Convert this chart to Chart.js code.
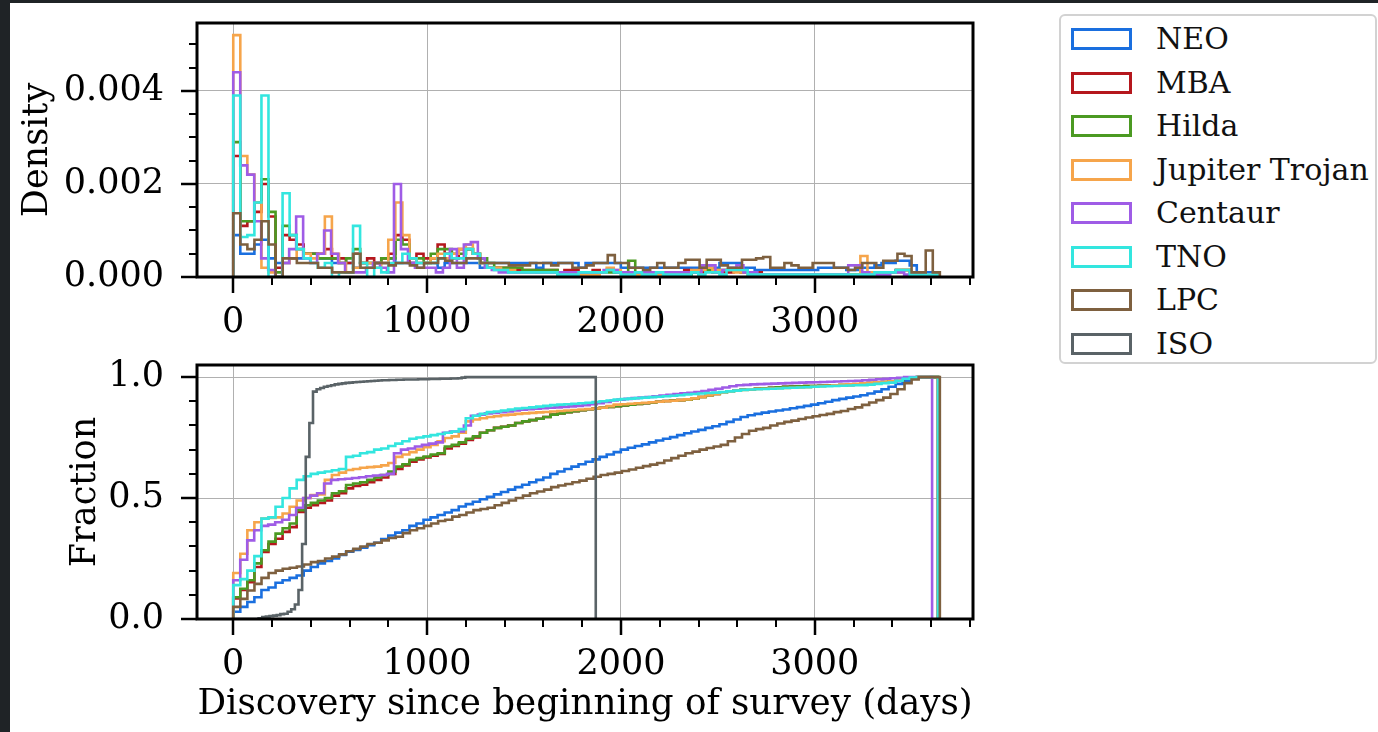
<!DOCTYPE html>
<html>
<head>
<meta charset="utf-8">
<script src="https://cdn.jsdelivr.net/npm/chart.js@4"></script>
<style>
  html, body { margin: 0; padding: 0; background: #ffffff; }
  body { width: 1378px; height: 732px; position: relative; overflow: hidden; font-family: 'DejaVu Serif', serif; }
  canvas { position: absolute; left: 0; }
  #c1 { top: 0; }
  #c2 { top: 345px; }
  .dark { position: absolute; background: #1f2326; z-index: 5; }
  #legend { position: absolute; left: 1059px; top: 14px; width: 318px; height: 350px; box-sizing: border-box;
            border: 2px solid #d2d2d2; border-radius: 6px; background: #fff; }
  .patch { position: absolute; left: 10px; width: 61px; height: 22px; box-sizing: border-box; border: 3px solid; background: #fff; }
  .ltext { position: absolute; left: 95px; font-size: 30px; line-height: 30px; color: #111; white-space: nowrap; }
</style>
</head>
<body>
<div class="dark" style="left:0;top:0;width:10px;height:732px"></div>
<div class="dark" style="left:0;top:0;width:1378px;height:3px"></div>
<canvas id="c1" width="1000" height="345"></canvas>
<canvas id="c2" width="1000" height="387"></canvas>
<div id="legend"></div>
<script>
// ---------------- data ----------------
const seriesNames  = ['NEO', 'MBA', 'Hilda', 'Jupiter Trojan', 'Centaur', 'TNO', 'LPC', 'ISO'];
const seriesColors = ['#1a6fdf', '#b5171d', '#4b9a22', '#f6a54b', '#9f5ce6', '#33e6df', '#7e603f', '#5a6367'];
// last discovery day of each population (upper edge of its histogram range)
const seriesEndDay = [3635, 3635, 3638, 3635, 3605, 3635, 3645, 1870];
const nBins = 100;

// Density per bin, in units of 1e-4 per day
const DENSITY_UNIT = 1e-4;
const densityNEO = [
  9, 5, 5, 7, 8, 4, 3, 3, 4, 4,
  5, 5, 4, 4, 3, 3, 3, 2, 3, 3,
  3, 3, 4, 3, 3, 3, 3, 3, 3, 2,
  3, 3, 3, 3, 3, 2, 3, 3, 3, 3,
  3, 3, 3, 2, 3, 3, 3, 3, 3, 2,
  3, 3, 3, 3, 3, 2, 2, 2, 2, 2,
  2, 2, 2, 2, 2, 2, 2, 2, 2, 3,
  3, 3, 2, 2, 1.5, 1.5, 1.5, 1.5, 1.5, 1.5,
  1.5, 1.5, 1.5, 2, 2, 2, 2, 1.5, 1.5, 2,
  2, 2.5, 3, 3, 3.5, 3.5, 2.5, 1, 1, 0.5];
const densityMBA = [
  26, 11, 12, 14, 20, 13, 2, 9, 8, 7,
  5, 5, 5, 6, 4, 4, 3, 5, 3, 4,
  3, 4, 5, 9, 8, 3, 5, 4, 4, 7,
  5, 4, 6, 6, 5, 3, 2, 2, 2, 2,
  1.5, 1.5, 1.5, 1, 1.5, 1.5, 1, 1.5, 1.5, 1,
  1, 1.5, 1, 1.5, 1, 1, 1, 1, 1, 1,
  1, 1, 1, 1, 1.5, 1, 1, 1.5, 1, 1,
  1, 1.5, 1, 1, 1, 0.5, 0.5, 0.5, 0.5, 0.5,
  0.5, 0.5, 0.5, 0.5, 0.5, 0.5, 0.5, 0.5, 0.5, 0.5,
  0.5, 1, 1, 1, 1.5, 1.5, 1, 0.5, 0.5, 0.5];
const densityHilda = [
  29, 12, 12, 16, 21, 14, 1, 11, 9, 6,
  5, 5, 4, 4, 4, 3, 4, 6, 3, 3,
  3, 4, 4, 8, 7, 4, 4, 3, 5, 6,
  6, 5, 5, 6, 5, 4, 3, 2, 2, 2,
  2, 1.5, 1.5, 1.5, 1.5, 1.5, 1, 1, 1, 1,
  1, 1, 1, 1, 1, 1, 3.5, 1, 1, 1,
  1, 1, 0.5, 0.5, 0.5, 1, 1.5, 1.5, 1.5, 1.5,
  1.5, 1.5, 1, 1, 0.5, 0.5, 0.5, 0.5, 0.5, 0.5,
  0.5, 0.5, 0.5, 0.5, 0.5, 0.5, 0.5, 0.5, 0.5, 0.5,
  0.5, 1, 1, 1, 1.5, 1.5, 1, 0.5, 0.5, 0.5];
const densityTrojan = [
  52, 26, 22, 16, 2, 1, 0, 3, 4, 6,
  5, 4, 5, 13, 5, 3, 1, 2, 3, 3,
  2, 3, 8, 16, 9, 4, 3, 3, 4, 5,
  4, 5, 6, 7, 5, 3, 2, 2, 1.5, 1.5,
  1, 1, 1, 1, 1, 1, 0.5, 0.5, 0.5, 0.5,
  0.5, 0.5, 1, 2, 1.5, 0.5, 0.5, 0.5, 0.5, 0.5,
  0.5, 0.5, 0.5, 1, 1, 1.5, 1.5, 2, 1.5, 1.5,
  1.5, 1, 1, 0.5, 0.5, 0.5, 0.5, 0.5, 0.5, 0.5,
  0.5, 0.5, 0.5, 0.5, 0.5, 0.5, 0.5, 0.5, 0.5, 4.5,
  1, 0.5, 1, 1, 1, 1.5, 1, 0.5, 0.5, 0.5];
const densityCentaur = [
  44, 24, 22, 12, 4, 1.5, 0, 3, 6, 13,
  4, 3, 5, 10, 5, 3, 1, 1, 1, 2,
  3, 2, 1, 20, 6, 3, 2, 2, 2, 1,
  2, 6, 2, 7, 7.5, 4, 2, 1.5, 1, 1,
  1, 1, 1, 1, 1, 1, 1, 1, 1, 1,
  1, 1, 1, 1.5, 1.5, 1, 1, 1, 1, 1,
  1, 1, 1, 1, 1, 1, 1, 2.5, 2.5, 1,
  1.5, 2, 2.5, 1, 1, 0.5, 0.5, 0.5, 0.5, 0.5,
  0.5, 0.5, 0.5, 0.5, 0.5, 0.5, 0.5, 0.5, 2.5, 2.5,
  1, 0.5, 0.5, 0.5, 1, 1, 0.5, 0.5, 0.5, 0.5];
const densityTNO = [
  39, 8.6, 9, 16, 39, 0, 0, 18, 9, 6,
  4, 3, 2, 3, 0, 1, 1, 11, 3, 0,
  2, 1, 3, 3, 5, 4, 3, 3, 3, 4,
  5, 4, 4, 6, 5, 3, 2, 1.5, 1.5, 1,
  1, 1, 1, 1, 1, 1, 0.5, 0.5, 0.5, 1,
  1, 1, 1, 1.5, 1, 0.5, 0.5, 1, 0.5, 0.5,
  1, 0.5, 0.5, 0.5, 0.5, 1, 0.5, 1, 1, 0.5,
  1.5, 1.5, 1.5, 0.5, 0.5, 0.5, 0.5, 0.5, 0.5, 0.5,
  0.5, 0.5, 0.5, 0.5, 0.5, 0.5, 0.5, 0.5, 0.5, 0.5,
  0.5, 1, 1, 1, 1.5, 1.5, 0.5, 0.5, 0.5, 0.5];
const densityLPC = [
  13.7, 7, 6, 8, 12, 7, 0, 4, 4, 3,
  3, 3, 2, 2, 1, 1, 1, 5, 2, 2,
  3, 3, 2.5, 3, 3, 2.5, 2, 3, 3, 4,
  3.5, 3, 3, 4, 4, 3, 3, 3, 3, 2.5,
  2.5, 2.5, 3, 3, 3, 2.5, 3, 3, 2, 2,
  2.5, 3, 3, 4.7, 3, 3, 2, 2, 1.5, 2,
  3, 2, 2, 3, 3.7, 3.7, 2, 3.7, 3.7, 2.5,
  2, 2, 3.7, 3.7, 4, 4.3, 2, 2, 3, 2.5,
  2, 2, 3, 3, 3, 2, 2, 1.5, 2, 3,
  3, 2, 3.5, 3.5, 5, 4.5, 1, 1, 5.7, 1];

// Cumulative fraction at the end of each bin
const cumNEO = [
  0.03, 0.05, 0.07, 0.09, 0.12, 0.13, 0.15, 0.16, 0.17, 0.18,
  0.2, 0.215, 0.23, 0.24, 0.25, 0.265, 0.278, 0.285, 0.295, 0.305,
  0.315, 0.33, 0.345, 0.357, 0.367, 0.385, 0.395, 0.41, 0.42, 0.43,
  0.44, 0.45, 0.465, 0.475, 0.485, 0.495, 0.505, 0.515, 0.525, 0.535,
  0.545, 0.555, 0.565, 0.575, 0.585, 0.6, 0.61, 0.62, 0.63, 0.64,
  0.65, 0.66, 0.67, 0.68, 0.69, 0.7, 0.708, 0.715, 0.722, 0.73,
  0.738, 0.745, 0.752, 0.76, 0.768, 0.775, 0.782, 0.79, 0.797, 0.805,
  0.815, 0.825, 0.835, 0.842, 0.848, 0.853, 0.858, 0.862, 0.866, 0.871,
  0.876, 0.881, 0.886, 0.892, 0.898, 0.905, 0.91, 0.915, 0.92, 0.925,
  0.932, 0.94, 0.95, 0.96, 0.972, 0.985, 0.995, 0.998, 0.999, 1.0];
const cumMBA = [
  0.085, 0.12, 0.152, 0.215, 0.277, 0.31, 0.332, 0.36, 0.38, 0.443,
  0.46, 0.47, 0.48, 0.49, 0.51, 0.52, 0.54, 0.55, 0.555, 0.565,
  0.575, 0.585, 0.6, 0.62, 0.635, 0.65, 0.66, 0.668, 0.675, 0.682,
  0.705, 0.715, 0.725, 0.74, 0.75, 0.77, 0.78, 0.79, 0.795, 0.8,
  0.81, 0.817, 0.822, 0.828, 0.835, 0.845, 0.85, 0.855, 0.859, 0.863,
  0.867, 0.87, 0.873, 0.877, 0.88, 0.883, 0.886, 0.889, 0.892, 0.895,
  0.898, 0.901, 0.903, 0.905, 0.907, 0.912, 0.918, 0.925, 0.93, 0.935,
  0.94, 0.945, 0.948, 0.95, 0.952, 0.954, 0.956, 0.958, 0.96, 0.961,
  0.962, 0.963, 0.963, 0.964, 0.965, 0.966, 0.967, 0.968, 0.97, 0.972,
  0.975, 0.977, 0.98, 0.983, 0.988, 0.994, 0.998, 1, 1, 1];
const cumHilda = [
  0.09, 0.125, 0.16, 0.23, 0.284, 0.32, 0.353, 0.375, 0.395, 0.45,
  0.47, 0.48, 0.49, 0.5, 0.52, 0.528, 0.554, 0.56, 0.565, 0.575,
  0.585, 0.595, 0.61, 0.63, 0.64, 0.658, 0.665, 0.672, 0.68, 0.685,
  0.713, 0.72, 0.73, 0.745, 0.755, 0.77, 0.78, 0.79, 0.795, 0.8,
  0.81, 0.817, 0.822, 0.828, 0.835, 0.845, 0.85, 0.855, 0.859, 0.863,
  0.867, 0.87, 0.873, 0.877, 0.88, 0.883, 0.886, 0.889, 0.892, 0.895,
  0.898, 0.901, 0.903, 0.905, 0.907, 0.912, 0.918, 0.925, 0.93, 0.935,
  0.94, 0.945, 0.948, 0.95, 0.952, 0.954, 0.956, 0.958, 0.96, 0.961,
  0.962, 0.963, 0.963, 0.964, 0.965, 0.966, 0.967, 0.968, 0.97, 0.972,
  0.975, 0.977, 0.98, 0.983, 0.988, 0.994, 0.998, 1, 1, 1];
const cumTrojan = [
  0.19, 0.27, 0.367, 0.4, 0.415, 0.418, 0.42, 0.436, 0.464, 0.49,
  0.5, 0.512, 0.515, 0.575, 0.595, 0.605, 0.616, 0.62, 0.625, 0.628,
  0.63, 0.635, 0.645, 0.67, 0.68, 0.69, 0.7, 0.71, 0.72, 0.735,
  0.748, 0.755, 0.77, 0.817, 0.825, 0.83, 0.835, 0.838, 0.842, 0.845,
  0.848, 0.85, 0.852, 0.854, 0.856, 0.858, 0.86, 0.862, 0.864, 0.866,
  0.868, 0.87, 0.873, 0.88, 0.886, 0.888, 0.89, 0.892, 0.894, 0.896,
  0.898, 0.9, 0.902, 0.905, 0.908, 0.912, 0.918, 0.925, 0.93, 0.935,
  0.94, 0.944, 0.947, 0.95, 0.951, 0.952, 0.953, 0.954, 0.955, 0.956,
  0.957, 0.958, 0.96, 0.962, 0.964, 0.966, 0.968, 0.97, 0.972, 0.974,
  0.976, 0.978, 0.98, 0.983, 0.988, 0.994, 0.998, 1, 1, 1];
const cumCentaur = [
  0.16, 0.245, 0.325, 0.367, 0.385, 0.39, 0.4, 0.41, 0.43, 0.46,
  0.5, 0.51, 0.52, 0.56, 0.575, 0.578, 0.58, 0.583, 0.586, 0.59,
  0.593, 0.595, 0.6, 0.685, 0.7, 0.705, 0.713, 0.72, 0.725, 0.73,
  0.77, 0.775, 0.775, 0.8, 0.84, 0.845, 0.85, 0.852, 0.855, 0.858,
  0.862, 0.865, 0.867, 0.869, 0.871, 0.873, 0.875, 0.877, 0.879, 0.881,
  0.884, 0.888, 0.892, 0.897, 0.903, 0.907, 0.91, 0.913, 0.915, 0.918,
  0.921, 0.924, 0.927, 0.93, 0.933, 0.935, 0.938, 0.942, 0.947, 0.952,
  0.957, 0.962, 0.966, 0.968, 0.97, 0.971, 0.972, 0.973, 0.974, 0.975,
  0.976, 0.977, 0.978, 0.979, 0.98, 0.981, 0.982, 0.983, 0.984, 0.985,
  0.987, 0.989, 0.991, 0.993, 0.995, 0.997, 1, 1, 1, 1];
const cumTNO = [
  0.14, 0.165, 0.2, 0.26, 0.415, 0.42, 0.464, 0.5, 0.54, 0.575,
  0.59, 0.6, 0.605, 0.61, 0.615, 0.62, 0.67, 0.675, 0.685, 0.69,
  0.7, 0.705, 0.715, 0.725, 0.735, 0.745, 0.75, 0.755, 0.76, 0.765,
  0.77, 0.775, 0.785, 0.83, 0.84, 0.848, 0.855, 0.858, 0.862, 0.866,
  0.87, 0.872, 0.875, 0.878, 0.881, 0.884, 0.886, 0.888, 0.89, 0.892,
  0.894, 0.897, 0.9, 0.903, 0.907, 0.909, 0.911, 0.913, 0.915, 0.917,
  0.919, 0.921, 0.923, 0.925, 0.928, 0.93, 0.932, 0.934, 0.936, 0.938,
  0.941, 0.944, 0.947, 0.949, 0.95, 0.951, 0.952, 0.953, 0.955, 0.956,
  0.957, 0.958, 0.96, 0.961, 0.962, 0.963, 0.964, 0.965, 0.966, 0.967,
  0.969, 0.972, 0.975, 0.977, 0.985, 0.993, 0.998, 1, 1, 1];
const cumLPC = [
  0.05, 0.083, 0.118, 0.145, 0.17, 0.19, 0.2, 0.208, 0.212, 0.217,
  0.225, 0.235, 0.24, 0.25, 0.258, 0.267, 0.28, 0.29, 0.3, 0.31,
  0.315, 0.325, 0.335, 0.34, 0.355, 0.367, 0.375, 0.385, 0.395, 0.405,
  0.41, 0.423, 0.43, 0.44, 0.45, 0.455, 0.46, 0.47, 0.48, 0.49,
  0.5, 0.51, 0.52, 0.527, 0.535, 0.545, 0.552, 0.558, 0.565, 0.572,
  0.58, 0.588, 0.595, 0.6, 0.605, 0.612, 0.618, 0.625, 0.632, 0.638,
  0.645, 0.655, 0.665, 0.675, 0.685, 0.692, 0.7, 0.707, 0.713, 0.72,
  0.735, 0.75, 0.765, 0.778, 0.785, 0.79, 0.8, 0.808, 0.815, 0.82,
  0.827, 0.833, 0.838, 0.843, 0.848, 0.855, 0.86, 0.868, 0.875, 0.885,
  0.895, 0.905, 0.915, 0.93, 0.95, 0.975, 0.99, 1, 1, 1];
const cumISO = [
  0, 0, 0, 0, 0, 0, 0, 0.003, 0.008, 0.01,
  0.012, 0.014, 0.016, 0.02, 0.022, 0.03, 0.04, 0.06, 0.12, 0.31,
  0.67, 0.81, 0.94, 0.95, 0.955, 0.96, 0.963, 0.966, 0.97, 0.972,
  0.974, 0.976, 0.977, 0.979, 0.98, 0.981, 0.982, 0.983, 0.984, 0.985,
  0.986, 0.987, 0.987, 0.988, 0.988, 0.989, 0.989, 0.99, 0.99, 0.99,
  0.99, 0.991, 0.991, 0.991, 0.992, 0.992, 0.992, 0.993, 0.993, 0.993,
  0.994, 0.994, 0.995, 0.998, 1, 1, 1, 1, 1, 1,
  1, 1, 1, 1, 1, 1, 1, 1, 1, 1,
  1, 1, 1, 1, 1, 1, 1, 1, 1, 1,
  1, 1, 1, 1, 1, 1, 1, 1, 1, 1];

const densitySeries = [densityNEO, densityMBA, densityHilda, densityTrojan, densityCentaur, densityTNO, densityLPC];
const cumulativeSeries = [cumNEO, cumMBA, cumHilda, cumTrojan, cumCentaur, cumTNO, cumLPC, cumISO];

// ticks
const xMajorTicks = [0, 1000, 2000, 3000];
const xMinorTicks = [200, 400, 600, 800, 1200, 1400, 1600, 1800, 2200, 2400, 2600, 2800, 3200, 3400, 3600, 3800];
const yTopTicks = [0, 0.002, 0.004];
const yTopTickLabels = ['0.000', '0.002', '0.004'];
const yTopMinorTicks = [0.0005, 0.001, 0.0015, 0.0025, 0.003, 0.0035, 0.0045, 0.005];
const yBotTicks = [0, 0.5, 1.0];
const yBotTickLabels = ['0.0', '0.5', '1.0'];
const yBotMinorTicks = [0.1, 0.2, 0.3, 0.4, 0.6, 0.7, 0.8, 0.9];

// ---------------- drawing ----------------
const FONT = "'DejaVu Serif', serif";
const FONT_SIZE = 35;

function stepPoints(values, endDay, scale) {
  const w = endDay / values.length;
  const pts = [{x: 0, y: 0}];
  values.forEach((v, i) => pts.push({x: i * w, y: v * scale}));
  pts.push({x: endDay, y: values[values.length - 1] * scale});
  pts.push({x: endDay, y: 0});
  return pts;
}

function makeDataset(i, values, scale) {
  return {
    label: seriesNames[i],
    data: stepPoints(values, seriesEndDay[i], scale),
    borderColor: seriesColors[i],
    borderWidth: 2.6,
    pointRadius: 0,
    fill: false,
    stepped: true,
    tension: 0,
    order: 10 - i
  };
}

function axisDecor(xMinor, yMajor, yMinor) {
  return {
    id: 'axisDecor',
    afterDraw(chart) {
      const {ctx, chartArea: a, scales} = chart;
      ctx.save();
      ctx.strokeStyle = '#000';
      ctx.lineCap = 'butt';
      const xt = (v, len, w) => {
        const px = Math.round(scales.x.getPixelForValue(v));
        ctx.lineWidth = w; ctx.beginPath(); ctx.moveTo(px, a.bottom); ctx.lineTo(px, a.bottom + len); ctx.stroke();
      };
      const yt = (v, len, w) => {
        const py = Math.round(scales.y.getPixelForValue(v));
        ctx.lineWidth = w; ctx.beginPath(); ctx.moveTo(a.left, py); ctx.lineTo(a.left - len, py); ctx.stroke();
      };
      xMajorTicks.forEach(v => xt(v, 16, 2.5));
      xMinor.forEach(v => xt(v, 8, 2));
      yMajor.forEach(v => yt(v, 16, 2.5));
      yMinor.forEach(v => yt(v, 8, 2));
      ctx.lineWidth = 3;
      ctx.strokeRect(a.left, a.top, a.right - a.left, a.bottom - a.top);
      ctx.restore();
    }
  };
}

function baseOptions(cfg) {
  return {
    responsive: false,
    animation: false,
    devicePixelRatio: 1,
    layout: {padding: {left: 0, right: 27, top: cfg.padTop, bottom: 0}},
    plugins: {legend: {display: false}, tooltip: {enabled: false}},
    scales: {
      x: {
        type: 'linear', min: -187, max: 3816,
        afterBuildTicks: s => { s.ticks = xMajorTicks.map(v => ({value: v})); },
        afterFit: s => { s.height = cfg.xHeight; s.paddingLeft = 0; s.paddingRight = 0; },
        grid: {display: true, color: '#b0b0b0', lineWidth: 1, drawTicks: true, tickLength: 16, tickColor: 'rgba(0,0,0,0)'},
        border: {display: false},
        ticks: {font: {family: FONT, size: FONT_SIZE}, color: '#000', padding: cfg.xPad, maxRotation: 0,
                callback: v => String(v)},
        title: cfg.xTitle ? {display: true, text: cfg.xTitle, font: {family: FONT, size: 35.7}, color: '#000', padding: {top: 0, bottom: cfg.xTitlePad}} : {display: false}
      },
      y: {
        type: 'linear', min: 0, max: cfg.yMax,
        afterBuildTicks: s => { s.ticks = cfg.yTicks.map(v => ({value: v})); },
        afterFit: s => { s.width = 197; s.paddingTop = 0; s.paddingBottom = 0; },
        grid: {display: true, color: '#b0b0b0', lineWidth: 1, drawTicks: true, tickLength: 16, tickColor: 'rgba(0,0,0,0)'},
        border: {display: false},
        ticks: {font: {family: FONT, size: FONT_SIZE}, color: '#000', padding: 17,
                callback: (v) => cfg.yLabels[cfg.yTicks.indexOf(v)] ?? ''},
        title: {display: true, text: cfg.yTitle, font: {family: FONT, size: FONT_SIZE}, color: '#000', padding: {top: cfg.yTitlePad, bottom: 0}}
      }
    }
  };
}

new Chart(document.getElementById('c1'), {
  type: 'line',
  data: {datasets: densitySeries.map((vals, i) => makeDataset(i, vals, DENSITY_UNIT))},
  options: baseOptions({padTop: 23, xHeight: 68, xPad: 9, yMax: 0.00546, yTicks: yTopTicks, yLabels: yTopTickLabels,
                        yTitle: 'Density', yTitlePad: 17}),
  plugins: [axisDecor(xMinorTicks, yTopTicks, yTopMinorTicks)]
});

new Chart(document.getElementById('c2'), {
  type: 'line',
  data: {datasets: cumulativeSeries.map((vals, i) => makeDataset(i, vals, 1))},
  options: baseOptions({padTop: 20, xHeight: 113, xPad: 9, yMax: 1.05, yTicks: yBotTicks, yLabels: yBotTickLabels,
                        yTitle: 'Fraction', yTitlePad: 65, xTitle: 'Discovery since beginning of survey (days)', xTitlePad: 6}),
  plugins: [axisDecor(xMinorTicks, yBotTicks, yBotMinorTicks)]
});

// ---------------- legend ----------------
const legend = document.getElementById('legend');
seriesNames.forEach((name, i) => {
  const p = document.createElement('div');
  p.className = 'patch';
  p.style.top = (12 + 43.5 * i) + 'px';
  p.style.borderColor = seriesColors[i];
  legend.appendChild(p);
  const t = document.createElement('div');
  t.className = 'ltext';
  t.style.top = (8 + 43.5 * i) + 'px';
  t.textContent = name;
  legend.appendChild(t);
});
</script>
</body>
</html>
